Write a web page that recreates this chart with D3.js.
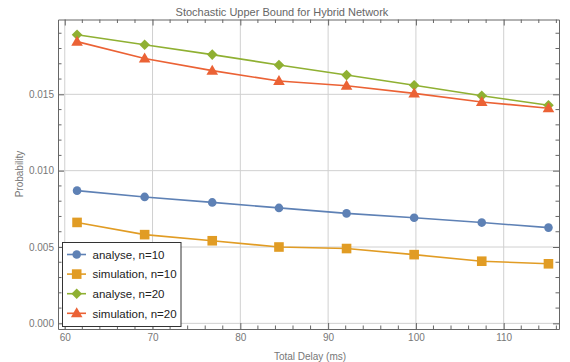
<!DOCTYPE html>
<html>
<head>
<meta charset="utf-8">
<script src="https://cdn.jsdelivr.net/npm/d3@7"></script>
<style>
  body { margin: 0; background: #fff; }
  svg { display: block; font-family: "Liberation Sans", Arial, sans-serif; }
</style>
</head>
<body>
<svg id="chart" width="570" height="362"></svg>
<script>
// data
const delays = [61.4, 69.1, 76.8, 84.4, 92.1, 99.8, 107.5, 115.1]
const analyse10 = [0.00869, 0.00828, 0.00792, 0.00756, 0.00720, 0.00692, 0.00660, 0.00627]
const simulation10 = [0.00661, 0.00581, 0.00541, 0.00500, 0.00490, 0.00450, 0.00407, 0.00390]
const analyse20 = [0.01890, 0.01825, 0.01760, 0.01692, 0.01626, 0.01559, 0.01491, 0.01428]
const simulation20 = [0.01845, 0.01735, 0.01655, 0.01587, 0.01556, 0.01506, 0.01450, 0.01409]
const seriesNames = ["analyse, n=10", "simulation, n=10", "analyse, n=20", "simulation, n=20"]
const xTicks = [60, 70, 80, 90, 100, 110]
const yTicks = [0, 0.005, 0.010, 0.015]

const colors = ["#5E81B5", "#E19C24", "#8FB032", "#EB6235"]
const shapes = ["circle", "square", "diamond", "triangle"]
const allSeries = [analyse10, simulation10, analyse20, simulation20]

const svg = d3.select("#chart")
const plotL = 58, plotR = 559, plotT = 19.5, plotB = 329

const x = d3.scaleLinear().domain([59.23, 116.3]).range([plotL, plotR])
const y = d3.scaleLinear().domain([-0.00037, 0.0199]).range([plotB, plotT])

// grid lines
svg.append("g").selectAll("line").data(xTicks).join("line")
    .attr("x1", d => x(d)).attr("x2", d => x(d))
    .attr("y1", plotT).attr("y2", plotB)
    .attr("stroke", "#d0d0d0").attr("stroke-width", 1)
svg.append("g").selectAll("line").data(yTicks).join("line")
    .attr("y1", d => y(d)).attr("y2", d => y(d))
    .attr("x1", plotL).attr("x2", plotR)
    .attr("stroke", "#d0d0d0").attr("stroke-width", 1)

// frame with inward ticks, Mathematica style
const tickCol = "#666"
const xMinor = d3.range(60, 117, 2).filter(v => v % 10 !== 0)
const yMinor = d3.range(1, 20).filter(v => v % 5 !== 0).map(v => v / 1000)

const bottomAxis = d3.axisBottom(x).tickValues(xTicks).tickSize(-6).tickPadding(5).tickFormat(d3.format("d"))
const topAxis = d3.axisTop(x).tickValues(xTicks).tickSize(-6).tickFormat("")
const leftAxis = d3.axisLeft(y).tickValues(yTicks).tickSize(-6).tickPadding(4).tickFormat(d3.format(".3f"))
const rightAxis = d3.axisRight(y).tickValues(yTicks).tickSize(-6).tickFormat("")

const styleAxis = g => {
    g.select(".domain").attr("stroke", tickCol).attr("stroke-width", 1)
    g.selectAll(".tick line").attr("stroke", tickCol)
    g.selectAll("text").attr("fill", "#777").attr("font-size", 10)
}

svg.append("g").attr("transform", `translate(0,${plotB})`).call(bottomAxis.tickSizeOuter(0)).call(styleAxis)
svg.append("g").attr("transform", `translate(0,${plotT})`).call(topAxis.tickSizeOuter(0)).call(styleAxis)
svg.append("g").attr("transform", `translate(${plotL},0)`).call(leftAxis.tickSizeOuter(0)).call(styleAxis)
svg.append("g").attr("transform", `translate(${plotR},0)`).call(rightAxis.tickSizeOuter(0)).call(styleAxis)

// minor ticks
const minor = svg.append("g").attr("stroke", tickCol).attr("stroke-width", 1)
xMinor.forEach(v => {
    minor.append("line").attr("x1", x(v)).attr("x2", x(v)).attr("y1", plotB).attr("y2", plotB - 3.5)
    minor.append("line").attr("x1", x(v)).attr("x2", x(v)).attr("y1", plotT).attr("y2", plotT + 3.5)
})
yMinor.forEach(v => {
    minor.append("line").attr("y1", y(v)).attr("y2", y(v)).attr("x1", plotL).attr("x2", plotL + 3.5)
    minor.append("line").attr("y1", y(v)).attr("y2", y(v)).attr("x1", plotR).attr("x2", plotR - 3.5)
})

// markers
const drawMarker = (g, shape, cx, cy, color) => {
    if (shape === "circle") {
        g.append("circle").attr("cx", cx).attr("cy", cy).attr("r", 4.3).attr("fill", color)
    } else if (shape === "square") {
        g.append("rect").attr("x", cx - 4.8).attr("y", cy - 4.8).attr("width", 9.6).attr("height", 9.6).attr("fill", color)
    } else if (shape === "diamond") {
        g.append("path").attr("d", `M${cx},${cy - 5.3}L${cx + 5.3},${cy}L${cx},${cy + 5.3}L${cx - 5.3},${cy}Z`).attr("fill", color)
    } else {
        g.append("path").attr("d", `M${cx},${cy - 6}L${cx + 5.8},${cy + 4}L${cx - 5.8},${cy + 4}Z`).attr("fill", color)
    }
}

const line = d3.line().x(d => x(d[0])).y(d => y(d[1]))
allSeries.forEach((vals, i) => {
    const pts = delays.map((d, j) => [d, vals[j]])
    const g = svg.append("g")
    g.append("path").datum(pts).attr("d", line)
        .attr("fill", "none").attr("stroke", colors[i]).attr("stroke-width", 1.6)
    pts.forEach(p => drawMarker(g, shapes[i], x(p[0]), y(p[1]), colors[i]))
})

// title and axis labels
svg.append("text").attr("x", 282).attr("y", 16).attr("text-anchor", "middle")
    .attr("font-size", 11).attr("fill", "#666").text("Stochastic Upper Bound for Hybrid Network")
svg.append("text").attr("x", 310).attr("y", 360).attr("text-anchor", "middle")
    .attr("font-size", 10).attr("fill", "#777").text("Total Delay (ms)")
svg.append("text").attr("transform", "translate(23,174) rotate(-90)").attr("text-anchor", "middle")
    .attr("font-size", 10).attr("fill", "#777").text("Probability")

// legend
const legend = svg.append("g")
legend.append("rect").attr("x", 62.5).attr("y", 242.5).attr("width", 118.5).attr("height", 84)
    .attr("fill", "#fff").attr("stroke", "#333").attr("stroke-width", 1)
seriesNames.forEach((name, i) => {
    const ry = 254.5 + i * 19.6
    legend.append("line").attr("x1", 67).attr("x2", 86).attr("y1", ry).attr("y2", ry)
        .attr("stroke", colors[i]).attr("stroke-width", 1.6)
    drawMarker(legend, shapes[i], 76.7, ry, colors[i])
    legend.append("text").attr("x", 92.5).attr("y", ry + 4.2)
        .attr("font-size", 11.5).attr("fill", "#222").text(name)
})
</script>
</body>
</html>
